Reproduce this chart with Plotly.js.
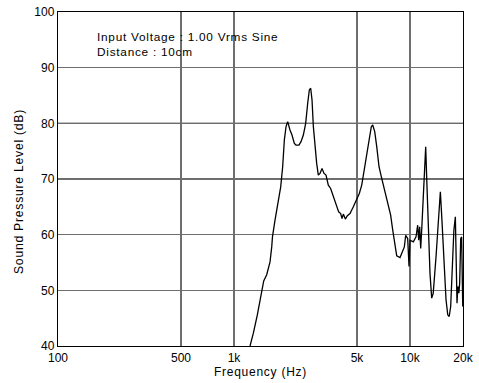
<!DOCTYPE html>
<html>
<head>
<meta charset="utf-8">
<script src="https://cdn.plot.ly/plotly-3.0.1.min.js"></script>
<style>
html,body{margin:0;padding:0;background:#fff;}
#chart{width:479px;height:383px;}
.annotation-text{letter-spacing:0.75px;}
.xtitle{letter-spacing:0.75px;}
</style>
</head>
<body>
<div id="chart"></div>
<script>
// Frequency response (Hz, dB)
const freqHz = [1233, 1288, 1357, 1423, 1475, 1534, 1602, 1638, 1654, 1710, 1762, 1802, 1842, 1890, 1932, 1975, 2018, 2080, 2135, 2202, 2249, 2339, 2403, 2477, 2554, 2622, 2679, 2727, 2775, 2824, 2886, 2949, 3013, 3080, 3162, 3246, 3332, 3434, 3540, 3667, 3797, 3933, 4037, 4108, 4180, 4292, 4405, 4561, 4764, 4980, 5152, 5316, 5478, 5675, 5875, 6026, 6138, 6302, 6470, 6667, 6906, 7370, 7762, 7976, 8185, 8403, 8774, 9045, 9286, 9450, 9700, 9870, 10000, 10445, 10817, 11055, 11200, 11350, 11498, 11650, 11906, 12100, 12277, 12450, 12706, 12990, 13281, 13550, 14050, 14486, 14871, 15150, 15606, 16019, 16382, 16700, 17024, 17398, 17750, 18097, 18300, 18493, 18700, 18950, 19150, 19410, 19650, 19930];
const splDb = [40.0, 42.3, 45.6, 48.9, 51.7, 52.8, 55.1, 57.8, 59.6, 62.6, 65.0, 66.2, 68.6, 72.2, 77.0, 79.4, 80.3, 78.8, 77.9, 76.4, 76.1, 76.1, 76.7, 77.9, 80.0, 83.6, 86.0, 86.3, 84.2, 79.4, 75.8, 72.8, 70.7, 71.0, 71.9, 71.0, 70.7, 68.9, 68.3, 66.8, 65.6, 64.1, 63.8, 62.9, 63.7, 62.8, 63.4, 63.8, 65.0, 66.2, 67.4, 68.9, 71.6, 74.6, 77.6, 79.4, 79.7, 78.5, 75.8, 72.2, 70.1, 66.5, 63.5, 60.8, 58.5, 56.2, 55.9, 56.9, 57.8, 59.9, 59.3, 54.3, 59.0, 58.7, 59.6, 61.7, 59.0, 61.4, 57.5, 60.8, 66.8, 72.8, 75.8, 69.8, 60.8, 53.0, 48.6, 49.5, 56.0, 63.2, 67.7, 63.2, 54.9, 48.3, 45.6, 45.3, 47.1, 53.6, 60.8, 63.2, 54.9, 47.7, 50.7, 49.5, 51.3, 59.3, 59.6, 47.1];
const xTickVals = [100, 500, 1000, 5000, 10000, 20000];
const xTickText = ['100', '500', '1k', '5k', '10k', '20k'];
const yTickVals = [40, 50, 60, 70, 80, 90, 100];
const refLevelDb = 80;
const noteText = 'Input Voltage : 1.00 Vrms Sine<br>Distance : 10cm';
const xTitle = 'Frequency (Hz)';
const yTitle = 'Sound Pressure Level (dB)';

const fam = 'Liberation Sans, Arial, sans-serif';
Plotly.newPlot('chart', [{
  x: freqHz, y: splDb, type: 'scatter', mode: 'lines',
  line: {color: '#000', width: 1.3}, hoverinfo: 'skip'
}], {
  width: 479, height: 383,
  margin: {l: 58, r: 16, t: 12, b: 37},
  paper_bgcolor: '#fff', plot_bgcolor: '#fff',
  font: {family: fam, size: 12, color: '#000'},
  showlegend: false,
  xaxis: {
    type: 'log', range: [2, Math.log10(20000)],
    tickvals: xTickVals, ticktext: xTickText,
    showgrid: true, gridcolor: '#6e6e6e', gridwidth: 1.3,
    showline: true, linecolor: '#000', linewidth: 1.2, mirror: true,
    ticks: '', zeroline: false,
    tickfont: {family: fam, size: 12, color: '#000'},
    title: {text: xTitle, font: {family: fam, size: 12, color: '#000'}, standoff: 2}
  },
  yaxis: {
    range: [40, 100], tickvals: yTickVals,
    showgrid: true, gridcolor: '#6e6e6e', gridwidth: 1.3,
    showline: true, linecolor: '#000', linewidth: 1.2, mirror: true,
    ticks: '', zeroline: false,
    tickfont: {family: fam, size: 12, color: '#000'}
  },
  shapes: [{
    type: 'line', xref: 'paper', yref: 'y', x0: 0, x1: 1, y0: refLevelDb, y1: refLevelDb,
    line: {color: '#000', width: 1.3}, layer: 'below'
  }],
  annotations: [{
    xref: 'paper', yref: 'paper', x: 0.092, y: 0.952,
    xanchor: 'left', yanchor: 'top', align: 'left', showarrow: false,
    text: noteText, font: {family: fam, size: 11.8, color: '#000'}
  }, {
    xref: 'paper', yref: 'paper', x: -0.095, y: 0.4626,
    xanchor: 'center', yanchor: 'middle', showarrow: false, textangle: -90,
    text: yTitle, font: {family: fam, size: 12.2, color: '#000'}
  }]
}, {staticPlot: true});
</script>
</body>
</html>
